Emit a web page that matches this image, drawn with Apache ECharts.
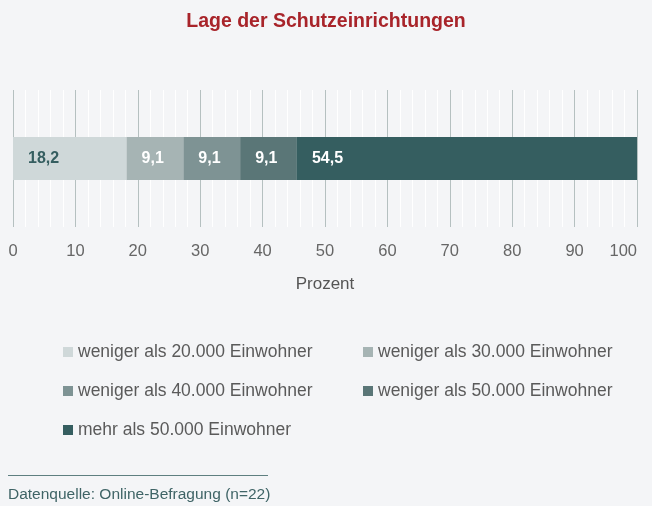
<!DOCTYPE html>
<html>
<head>
<meta charset="utf-8">
<style>
  html, body { margin: 0; padding: 0; background: #f4f5f7; }
  #main { width: 652px; height: 506px; }
</style>
<script src="https://cdn.jsdelivr.net/npm/echarts@6/dist/echarts.min.js"></script>
</head>
<body>
<div id="main"></div>
<script>
// Werte aus der Online-Befragung (Prozent)
var seriesNames = [
  'weniger als 20.000 Einwohner',
  'weniger als 30.000 Einwohner',
  'weniger als 40.000 Einwohner',
  'weniger als 50.000 Einwohner',
  'mehr als 50.000 Einwohner'
];
var seriesValues = [18.2, 9.1, 9.1, 9.1, 54.5];
var seriesColors = ['#cfd8d9', '#a6b4b4', '#7e9394', '#5a7677', '#355e60'];
var labelColors = ['#355e60', '#ffffff', '#ffffff', '#ffffff', '#ffffff'];
var category = ['Lage'];

var font = '"Liberation Sans", Arial, sans-serif';

var myChart = echarts.init(document.getElementById('main'));

var series = seriesNames.map(function (name, i) {
  return {
    name: name,
    type: 'bar',
    stack: 'total',
    barWidth: 43,
    data: [seriesValues[i]],
    itemStyle: { color: seriesColors[i] },
    label: {
      show: true,
      position: 'insideLeft',
      distance: 15,
      color: labelColors[i],
      fontFamily: font,
      fontWeight: 'bold',
      fontSize: 16,
      formatter: function (p) { return String(p.value).replace('.', ','); }
    }
  };
});

var legendText = { color: '#5a5a5a', fontFamily: font, fontSize: 17.5 };

myChart.setOption({
  backgroundColor: '#f4f5f7',
  animation: false,
  title: {
    text: 'Lage der Schutzeinrichtungen',
    left: 'center',
    top: 7,
    textStyle: { color: '#a8242a', fontFamily: font, fontWeight: 'bold', fontSize: 19.5 }
  },
  grid: { left: 13, right: 15, top: 90, bottom: 279 },
  xAxis: {
    type: 'value',
    min: 0,
    max: 100,
    interval: 10,
    name: 'Prozent',
    nameLocation: 'middle',
    nameGap: 49,
    nameTextStyle: { color: '#555', fontFamily: font, fontSize: 17 },
    axisLine: { show: false },
    axisTick: { show: false },
    axisLabel: { color: '#666', fontFamily: font, fontSize: 16.5, margin: 16, alignMaxLabel: 'right' },
    splitLine: { show: true, lineStyle: { color: '#b5c0c0', width: 1 } },
    minorTick: { show: false, splitNumber: 5 },
    minorSplitLine: { show: true, lineStyle: { color: '#ffffff', width: 1 } }
  },
  yAxis: {
    type: 'category',
    data: category,
    show: false
  },
  legend: [
    {
      data: [seriesNames[0], seriesNames[2], seriesNames[4]],
      orient: 'vertical',
      left: 58,
      top: 338,
      itemWidth: 10,
      itemHeight: 10,
      itemGap: 21,
      icon: 'rect',
      textStyle: legendText
    },
    {
      data: [seriesNames[1], seriesNames[3]],
      orient: 'vertical',
      left: 358,
      top: 338,
      itemWidth: 10,
      itemHeight: 10,
      itemGap: 21,
      icon: 'rect',
      textStyle: legendText
    }
  ],
  graphic: [
    {
      type: 'line',
      shape: { x1: 8, y1: 475.5, x2: 268, y2: 475.5 },
      style: { stroke: '#5e7f80', lineWidth: 1 }
    },
    {
      type: 'text',
      left: 8,
      top: 487,
      style: { text: 'Datenquelle: Online-Befragung (n=22)', fill: '#3f6466', font: '15.5px ' + font }
    }
  ],
  series: series
});
</script>
</body>
</html>
